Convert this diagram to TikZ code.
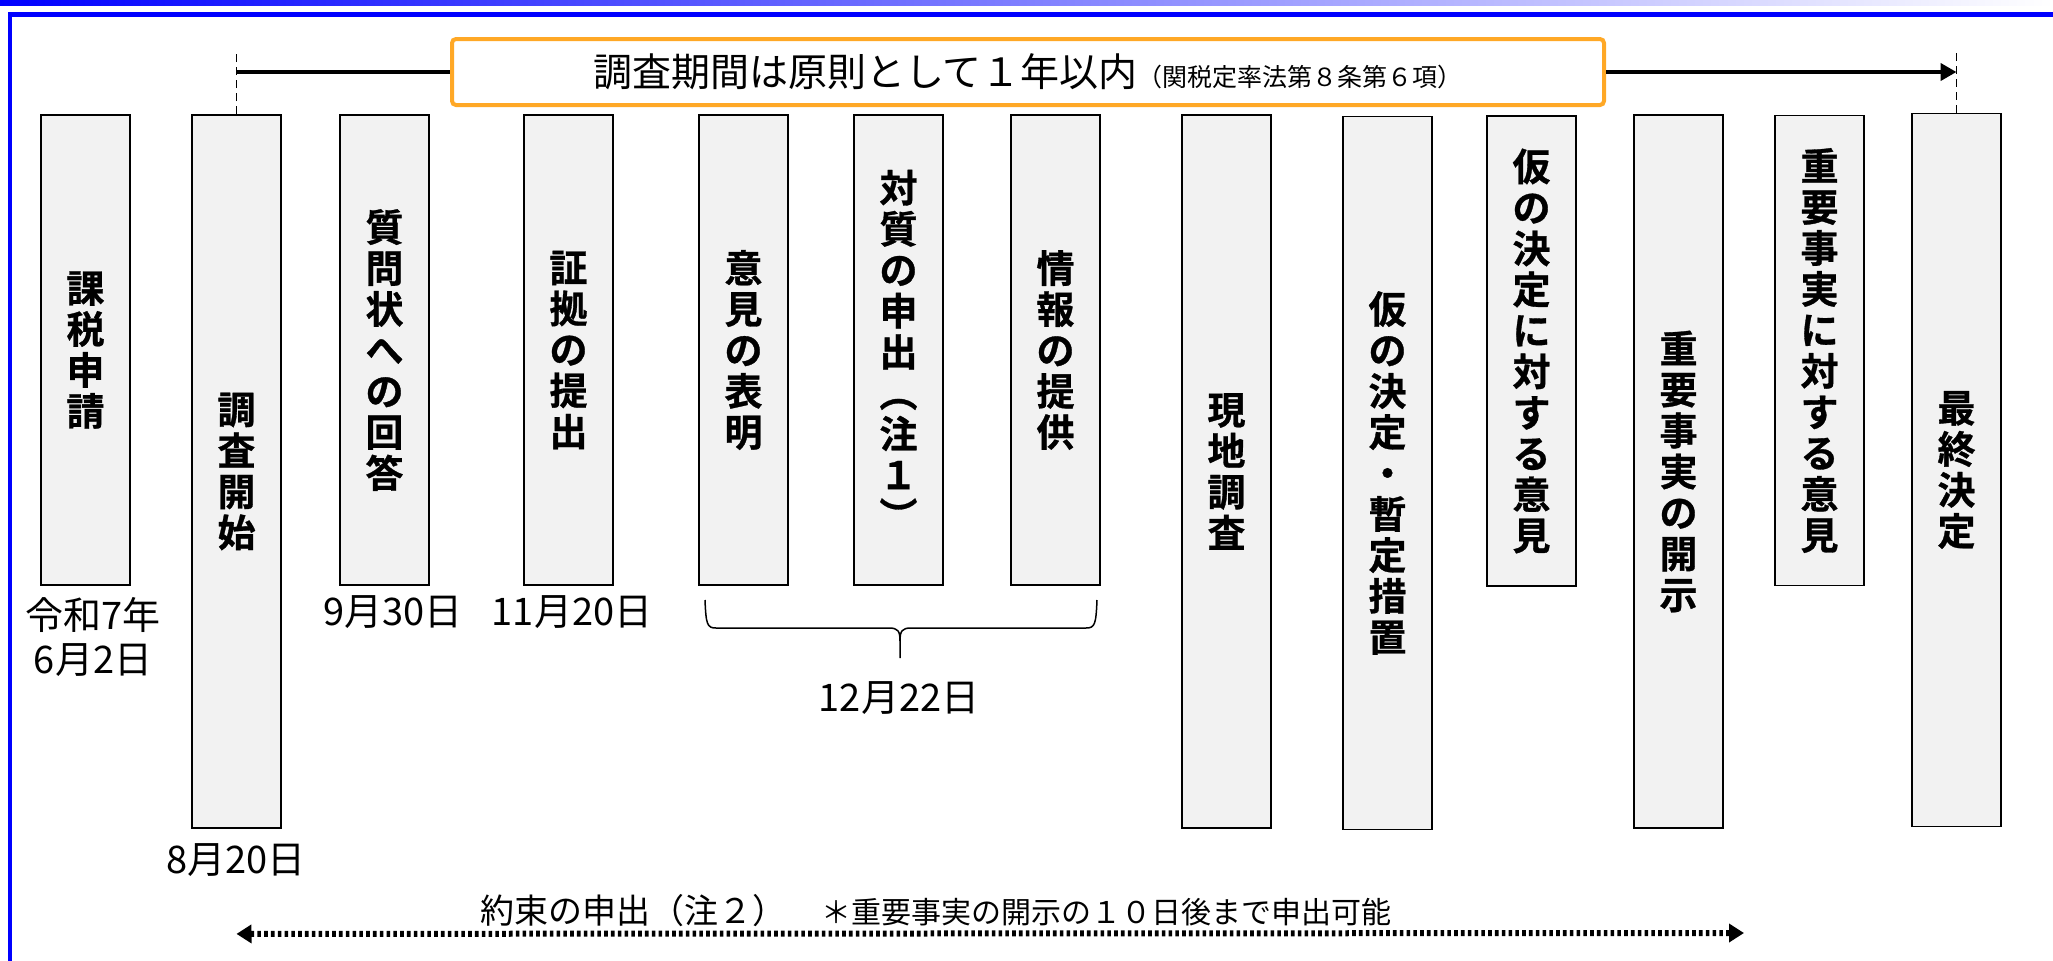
\documentclass[tikz,border=0pt]{standalone}
\usepackage{fontspec}
\newfontfamily\jp{Noto Sans CJK JP}
\newfontfamily\jpb{Noto Sans CJK JP Bold}[FakeBold=0.8]
\usetikzlibrary{arrows.meta,calc}
\definecolor{boxgray}{HTML}{F2F2F2}
\definecolor{frameblue}{HTML}{0000FF}
\definecolor{orangeline}{HTML}{FFA826}
\begin{document}
\begin{tikzpicture}[x=0.5pt,y=-0.5pt,
  stepbox/.style={draw=black,line width=0.9pt,fill=boxgray,minimum width=44.5pt,inner sep=0pt,align=center,font=\jpb\fontsize{19}{20.5}\selectfont},
  shortbox/.style={stepbox,minimum height=235pt},
  tallbox/.style={stepbox,minimum height=356.5pt},
  datelabel/.style={font=\jp\fontsize{19}{22}\selectfont,inner sep=0pt,align=center},
  dashv/.style={line width=0.9pt,dash pattern=on 4pt off 2.5pt},
]
\useasboundingbox (0,0) rectangle (2053,960);
\clip (0,0) rectangle (2053,960);
\shade[left color=frameblue,right color=white] (0,0) rectangle (2053,5);
\draw[frameblue,line width=2.25pt] (10,1000) -- (10,14.5) -- (2100,14.5);

% boxes
\node[shortbox] (b1) at (85.5,350) {課\\税\\申\\請};
\node[tallbox] (b2) at (236.5,471.5) {調\\査\\開\\始};
\node[shortbox] (b3) at (384.5,350) {質\\問\\状\\へ\\の\\回\\答};
\node[shortbox] (b4) at (568.5,350) {証\\拠\\の\\提\\出};
\node[shortbox] (b5) at (743.5,350) {意\\見\\の\\表\\明};
\node[shortbox] (b6) at (898.5,350) {対\\質\\の\\申\\出\\︵\\注\\１\\︶};
\node[shortbox] (b7) at (1055.5,350) {情\\報\\の\\提\\供};
\node[tallbox] (b8) at (1226.5,471.5) {現\\地\\調\\査};
\node[tallbox] (b9) at (1387.5,473) {仮\\の\\決\\定\\・\\暫\\定\\措\\置};
\node[shortbox] (b10) at (1531.5,351) {仮\\の\\決\\定\\に\\対\\す\\る\\意\\見};
\node[tallbox] (b11) at (1678.5,471.5) {重\\要\\事\\実\\の\\開\\示};
\node[shortbox] (b12) at (1819.5,350.5) {重\\要\\事\\実\\に\\対\\す\\る\\意\\見};
\node[tallbox] (b13) at (1956.5,470) {最\\終\\決\\定};

% title
\node[draw=orangeline,line width=2pt,rounded corners=2pt,fill=white,minimum width=576pt,minimum height=33pt,inner sep=0pt] (title) at (1028,72)
  {\jp\fontsize{19.5}{20}\selectfont 調査期間は原則として１年以内\fontsize{12.5}{13}\selectfont（関税定率法第８条第６項）};

\draw[dashv] (b2.north) -- ++(0,-63) coordinate (tl);
\draw[dashv] (b13.north) -- ++(0,-63) coordinate (tr);
\draw[line width=2.2pt] (b2.north |- title.west) -- (title.west);
\draw[line width=2.2pt,-{Triangle[length=8pt,width=8.5pt]}] (title.east) -- (b13.north |- title.east);

% dates
\node[datelabel] (d1) at (93,637) {令和7年\\6月2日};
\node[datelabel] (d2) at (236,860) {8月20日};
\node[datelabel] (d3) at (393,612) {9月30日};
\node[datelabel] (d4) at (572,612) {11月20日};
\node[datelabel] (d5) at (899,698) {12月22日};

% brace
\draw[line width=0.75pt] (705,600) .. controls (706,624) and (707,628) .. (716,628) -- (889,628)
  .. controls (898,628) and (900,631) .. (900,641) -- (900,658);
\draw[line width=0.75pt] (900,641) .. controls (900,631) and (902,628) .. (911,628) -- (1086,628)
  .. controls (1095,628) and (1096,624) .. (1097,600);

% bottom
\path (b2.south) ++(0,105) coordinate (dl);
\coordinate (dr) at (1744,933);
\draw[line width=3pt,dash pattern=on 1.8pt off 1.6pt,{Triangle[length=7.5pt,width=9pt]}-{Triangle[length=7.5pt,width=9pt]}] (dl) -- (dr);
\node[anchor=base west,inner sep=0pt,font=\jp\fontsize{17}{20}\selectfont] (yak) at (480,923) {約束の申出（注２）};
\node[anchor=base west,inner sep=0pt,font=\jp\fontsize{15}{18}\selectfont] (note) at (821,923) {＊重要事実の開示の１０日後まで申出可能};
\end{tikzpicture}
\end{document}
